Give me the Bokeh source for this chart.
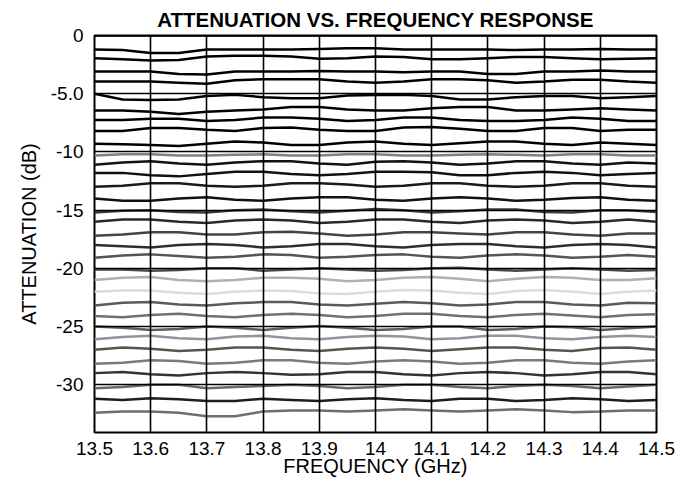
from bokeh.plotting import figure
from bokeh.models import FixedTicker, Range1d
from bokeh.embed import file_html
from bokeh.resources import INLINE

# frequency sample points (GHz)
freq = [13.5, 13.55, 13.6, 13.65, 13.7, 13.75, 13.8, 13.85, 13.9, 13.95, 14.0,
        14.05, 14.1, 14.15, 14.2, 14.25, 14.3, 14.35, 14.4, 14.45, 14.5]

# nominal level of each attenuation state trace (dB)
levels = [0.0, -1.2, -2.05, -3.1, -4.05, -5.3, -6.45, -7.35, -8.2, -9.4,
          -10.3, -11.1, -12.0, -13.0, -14.2, -15.2, -16.1, -17.2, -18.2, -19.1,
          -20.2, -21.1, -22.2, -23.2, -24.2, -25.3, -26.1, -27.1, -28.2, -29.2,
          -30.3, -31.5, -32.4]

# ripple of each trace around its level (dB), read along frequency
ripple = [
    [0, 0, 0, 0, 0, 0, 0, 0, 0, 0, 0, 0, 0, 0, 0, 0, 0, 0, 0, 0, 0],
    [0, -0.05, -0.3, -0.3, 0, 0, 0, 0, 0.05, 0.1, 0.1, 0, 0, 0, 0, -0.05, 0, 0, 0.05, 0, 0],
    [0.1, 0, -0.1, -0.05, 0.25, 0.3, 0.3, 0.25, 0.05, 0.1, 0.25, 0.2, 0, 0, 0.1, 0.2, 0.2, 0.1, 0, 0.05, 0.1],
    [0, 0, 0, -0.2, -0.25, 0, 0, 0, 0.05, 0, 0, -0.05, 0, 0, -0.2, -0.2, 0, 0, 0.1, 0, 0],
    [0.1, 0.1, 0.1, 0, -0.1, 0.2, 0.3, 0.3, 0.3, 0.1, 0, 0.1, 0.3, 0.3, 0.2, 0, 0.1, 0.25, 0.25, 0.1, 0],
    [0.3, -0.2, -0.25, -0.2, 0.1, 0.2, 0, -0.1, -0.1, 0.15, 0.2, 0.2, 0.1, -0.2, -0.2, 0, 0.1, 0.1, -0.1, 0, 0.1],
    [0, 0, -0.1, -0.3, -0.1, 0, 0.1, 0.3, 0.3, 0.1, 0, 0, 0.2, 0.3, 0.3, 0, 0, 0.1, 0.2, 0.1, 0],
    [0.1, 0.1, 0.2, 0.2, 0, 0.1, 0.3, 0.3, 0.2, 0, 0.1, 0.3, 0.3, 0.1, 0, 0, 0.1, 0.3, 0.2, 0, 0],
    [0, 0, 0.25, 0.25, 0.1, 0, 0.25, 0.3, 0.1, 0, 0, 0.3, 0.35, 0.2, 0, 0, 0.25, 0.25, 0, 0.1, 0.1],
    [0.1, 0.05, 0, -0.1, 0.1, 0.3, 0.2, 0, 0, 0.2, 0.3, 0.1, 0, 0.15, 0.3, 0.3, 0.1, 0, 0.2, 0.1, 0],
    [0, 0.1, 0.1, 0, 0, 0.05, 0.1, 0, 0, 0.1, 0.1, 0, 0, 0.05, 0.1, 0.05, 0, 0.1, 0.1, 0, 0],
    [0, 0.2, 0.3, 0.1, 0, 0.2, 0.3, 0.3, 0.1, 0, 0.25, 0.3, 0.2, 0, 0.1, 0.3, 0.3, 0.1, 0, 0.2, 0.1],
    [0.2, 0.2, 0, -0.1, 0.1, 0.3, 0.3, 0.1, 0, 0.1, 0.3, 0.3, 0.25, 0, 0, 0.2, 0.3, 0.2, 0, 0.1, 0.2],
    [0, 0.1, 0.3, 0.3, 0.1, 0, 0.1, 0.3, 0.3, 0.2, 0, 0.1, 0.3, 0.3, 0.1, 0, 0.1, 0.3, 0.3, 0.1, 0],
    [0.2, 0, 0, 0.2, 0.3, 0.1, 0, 0.2, 0.3, 0.3, 0.1, 0, 0.2, 0.3, 0.2, 0, 0.1, 0.25, 0.3, 0.1, 0],
    [0, 0.15, 0.2, 0.05, 0, 0.2, 0.25, 0.1, 0, 0.15, 0.3, 0.2, 0, 0.1, 0.25, 0.25, 0.05, 0, 0.2, 0.2, 0.05],
    [0.1, 0.3, 0.3, 0.1, 0, 0.2, 0.3, 0.2, 0, 0.1, 0.3, 0.3, 0.1, 0, 0.2, 0.3, 0.2, 0, 0.1, 0.3, 0.1],
    [0, 0.1, 0.3, 0.3, 0.1, 0.1, 0.3, 0.35, 0.2, 0, 0.1, 0.3, 0.3, 0.2, 0.1, 0.3, 0.3, 0.1, 0, 0.2, 0.2],
    [0.2, 0.1, 0, 0.2, 0.3, 0.2, 0, 0.1, 0.3, 0.3, 0.1, 0, 0.2, 0.3, 0.3, 0.1, 0, 0.2, 0.3, 0.2, 0],
    [0, 0.2, 0.3, 0.15, 0, 0.1, 0.3, 0.25, 0, 0.1, 0.25, 0.3, 0.1, 0, 0.2, 0.3, 0.2, 0, 0.1, 0.25, 0.1],
    [0.1, 0.1, 0, 0.05, 0.2, 0.2, 0, 0.1, 0.2, 0.1, 0, 0.05, 0.2, 0.25, 0.1, 0, 0.1, 0.2, 0.1, 0, 0.05],
    [0.1, 0.3, 0.35, 0.1, 0, 0.1, 0.3, 0.3, 0.2, 0, 0.1, 0.3, 0.35, 0.2, 0, 0.2, 0.35, 0.3, 0.1, 0.1, 0.25],
    [0.2, 0.3, 0.3, 0.1, 0, 0.2, 0.3, 0.25, 0.05, 0, 0.2, 0.35, 0.3, 0.1, 0, 0.25, 0.35, 0.2, 0, 0.2, 0.3],
    [0, 0.25, 0.3, 0.1, 0, 0.2, 0.3, 0.3, 0.1, 0, 0.15, 0.3, 0.2, 0, 0.1, 0.3, 0.3, 0.1, 0, 0.25, 0.2],
    [0.1, 0, 0.2, 0.3, 0.1, 0, 0.2, 0.3, 0.2, 0, 0.1, 0.3, 0.3, 0.1, 0, 0.2, 0.3, 0.15, 0, 0.2, 0.25],
    [0.3, 0.2, 0, 0.1, 0.3, 0.2, 0, 0.2, 0.35, 0.2, 0, 0.1, 0.3, 0.3, 0, 0.1, 0.3, 0.25, 0, 0.15, 0.3],
    [0, 0.2, 0.3, 0.1, 0, 0.25, 0.3, 0.1, 0, 0.2, 0.3, 0.25, 0, 0.1, 0.3, 0.3, 0.1, 0, 0.2, 0.3, 0.2],
    [0.1, 0.3, 0.2, 0, 0.1, 0.3, 0.3, 0.1, 0, 0.2, 0.3, 0.2, 0, 0.15, 0.3, 0.3, 0.1, 0, 0.25, 0.3, 0.1],
    [0, 0.1, 0.3, 0.25, 0, 0.1, 0.3, 0.3, 0.1, 0, 0.2, 0.3, 0.2, 0, 0.1, 0.3, 0.3, 0.1, 0, 0.2, 0.3],
    [0.2, 0.3, 0.1, 0, 0.2, 0.3, 0.2, 0.05, 0.1, 0.3, 0.3, 0.1, 0, 0.2, 0.3, 0.2, 0, 0.1, 0.3, 0.3, 0.1],
    [0, 0.1, 0.3, 0.3, 0, 0.1, 0.2, 0.3, 0.2, 0, 0.1, 0.3, 0.3, 0.1, 0, 0.2, 0.3, 0.2, 0, 0.15, 0.3],
    [0.3, 0.2, 0.35, 0.25, 0.1, 0.1, 0.3, 0.2, 0.1, 0.25, 0.35, 0.2, 0.1, 0.3, 0.3, 0.1, 0.2, 0.35, 0.25, 0.1, 0.2],
    [0, 0.1, 0.1, 0, -0.3, -0.3, 0.1, 0.2, 0.2, 0.1, 0.2, 0.3, 0.2, 0.1, 0.2, 0.3, 0.2, 0.05, 0.1, 0.2, 0.2],
]

trace_colors = ["#000000", "#000000", "#000000", "#000000", "#000000", "#000000",
                "#000000", "#000000", "#000000", "#000000", "#808080", "#111111",
                "#111111", "#1a1a1a", "#111111", "#3a3a3a", "#2a2a2a", "#444444",
                "#2e2e2e", "#555555", "#4a4a4a", "#b0b0b0", "#dcdcdc", "#5a5a5a",
                "#707070", "#5c5c5c", "#8c96a0", "#555555", "#7a7a7a", "#333333",
                "#6a6a6a", "#1e1e1e", "#6e6e6e"]

x_ticks = [13.5, 13.6, 13.7, 13.8, 13.9, 14.0, 14.1, 14.2, 14.3, 14.4, 14.5]
x_labels = ["13.5", "13.6", "13.7", "13.8", "13.9", "14", "14.1", "14.2", "14.3", "14.4", "14.5"]
y_ticks = [0, -5, -10, -15, -20, -25, -30]
y_labels = ["0", "-5.0", "-10", "-15", "-20", "-25", "-30"]

FONT = "Liberation Sans"

p = figure(frame_width=562, frame_height=397,
           min_border_left=94, min_border_right=24, min_border_top=35, min_border_bottom=40,
           x_range=Range1d(13.5, 14.5), y_range=Range1d(-34.1, 0),
           output_backend="svg", toolbar_location=None,
           title="ATTENUATION VS. FREQUENCY RESPONSE")

p.title.text_font = FONT
p.title.text_font_size = "20.5px"
p.title.text_font_style = "bold"
p.title.text_color = "black"
p.title.align = "center"
p.title.standoff = 9

for lvl, rip, col in zip(levels, ripple, trace_colors):
    ys = [lvl + r for r in rip]
    p.line(freq, ys, line_color=col, line_width=2.5)

p.xaxis.ticker = FixedTicker(ticks=x_ticks)
p.xaxis.major_label_overrides = dict(zip(x_ticks, x_labels))
p.yaxis.ticker = FixedTicker(ticks=y_ticks)
p.yaxis.major_label_overrides = dict(zip(y_ticks, y_labels))

for ax in (p.xaxis[0], p.yaxis[0]):
    ax.axis_line_color = None
    ax.major_tick_line_color = None
    ax.minor_tick_line_color = None
    ax.major_tick_out = 0
    ax.major_tick_in = 0
    ax.major_label_text_font = FONT
    ax.major_label_text_font_size = "19px"
    ax.major_label_text_color = "black"
    ax.axis_label_text_font = FONT
    ax.axis_label_text_font_size = "20px"
    ax.axis_label_text_font_style = "normal"
    ax.axis_label_text_color = "black"

p.xaxis.axis_label = "FREQUENCY (GHz)"
p.yaxis.axis_label = "ATTENUATION (dB)"
p.xaxis.major_label_standoff = 9
p.xaxis.axis_label_standoff = -3
p.yaxis.major_label_standoff = 11
p.yaxis.axis_label_standoff = 8

for g in (p.xgrid[0], p.ygrid[0]):
    g.grid_line_color = "black"
    g.grid_line_width = 1.6
    g.grid_line_alpha = 1.0
    g.level = "overlay"

p.outline_line_color = "black"
p.outline_line_width = 2
p.background_fill_color = "white"
p.border_fill_color = "white"

open("out.html", "w").write(file_html(p, INLINE))
